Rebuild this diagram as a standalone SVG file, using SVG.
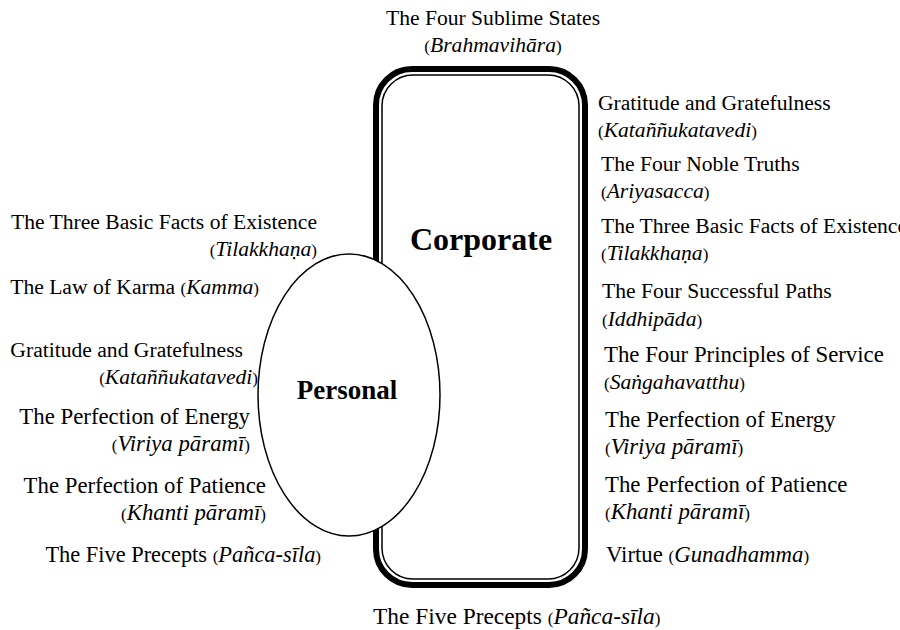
<svg xmlns="http://www.w3.org/2000/svg" width="900" height="630" viewBox="0 0 900 630">
<style>
text{font-family:"Liberation Serif","Times New Roman",serif;font-size:21.6px;fill:#000}
.l{font-size:22.8px}
.i{font-style:italic}
.p{font-size:17px;font-style:normal}
.r{text-anchor:end}
.c{text-anchor:middle}
.b{font-weight:bold}
</style>
<rect width="900" height="630" fill="#fff"/>
<g id="corporate">
<rect x="376" y="69" width="209" height="516" rx="36" fill="#fff" stroke="#000" stroke-width="6"/>
<rect x="382" y="75" width="197" height="504" rx="31" fill="none" stroke="#000" stroke-width="1.5"/>
<text x="481" y="250" class="c b" style="font-size:32px">Corporate</text>
</g>
<g id="personal">
<ellipse cx="349" cy="395" rx="91" ry="141" fill="#fff" stroke="#000" stroke-width="1.5"/>
<text x="347" y="399" class="c b" style="font-size:27px">Personal</text>
</g>
<g id="top-label">
<text x="493" y="25" class="c">The Four Sublime States</text>
<text x="493" y="52" class="c"><tspan class="p">(</tspan><tspan class="i">Brahmavihāra</tspan><tspan class="p">)</tspan></text>
</g>
<g id="bottom-label">
<text x="373" y="624" style="font-size:23.4px">The Five Precepts <tspan class="p">(</tspan><tspan class="i">Pañca-sīla</tspan><tspan class="p">)</tspan></text>
</g>
<g id="right-labels">
<text x="598" y="110">Gratitude and Gratefulness</text>
<text x="598" y="137"><tspan class="p">(</tspan><tspan class="i">Kataññukatavedi</tspan><tspan class="p">)</tspan></text>
<text x="601" y="171">The Four Noble Truths</text>
<text x="601" y="198"><tspan class="p">(</tspan><tspan class="i">Ariyasacca</tspan><tspan class="p">)</tspan></text>
<text x="601" y="233">The Three Basic Facts of Existence</text>
<text x="601" y="260"><tspan class="p">(</tspan><tspan class="i">Tilakkhaṇa</tspan><tspan class="p">)</tspan></text>
<text x="602" y="298">The Four Successful Paths</text>
<text x="602" y="326"><tspan class="p">(</tspan><tspan class="i">Iddhipāda</tspan><tspan class="p">)</tspan></text>
<text x="604" y="362" class="l">The Four Principles of Service</text>
<text x="604" y="389"><tspan class="p">(</tspan><tspan class="i">Saṅgahavatthu</tspan><tspan class="p">)</tspan></text>
<text x="605" y="427" class="l">The Perfection of Energy</text>
<text x="605" y="454" class="l"><tspan class="p">(</tspan><tspan class="i">Viriya pāramī</tspan><tspan class="p">)</tspan></text>
<text x="605" y="492" class="l">The Perfection of Patience</text>
<text x="605" y="519" class="l"><tspan class="p">(</tspan><tspan class="i">Khanti pāramī</tspan><tspan class="p">)</tspan></text>
<text x="606" y="562" class="l">Virtue <tspan class="p">(</tspan><tspan class="i">Gunadhamma</tspan><tspan class="p">)</tspan></text>
</g>
<g id="left-labels">
<text x="317" y="229" class="r">The Three Basic Facts of Existence</text>
<text x="317" y="256" class="r"><tspan class="p">(</tspan><tspan class="i">Tilakkhaṇa</tspan><tspan class="p">)</tspan></text>
<text x="259" y="294" class="r">The Law of Karma <tspan class="p">(</tspan><tspan class="i">Kamma</tspan><tspan class="p">)</tspan></text>
<text x="243" y="357" class="r">Gratitude and Gratefulness</text>
<text x="258" y="384" class="r"><tspan class="p">(</tspan><tspan class="i">Kataññukatavedi</tspan><tspan class="p">)</tspan></text>
<text x="250" y="424" class="r l">The Perfection of Energy</text>
<text x="250" y="451" class="r l"><tspan class="p">(</tspan><tspan class="i">Viriya pāramī</tspan><tspan class="p">)</tspan></text>
<text x="266" y="493" class="r l">The Perfection of Patience</text>
<text x="266" y="520" class="r l"><tspan class="p">(</tspan><tspan class="i">Khanti pāramī</tspan><tspan class="p">)</tspan></text>
<text x="321" y="562" class="r" style="font-size:22.4px">The Five Precepts <tspan class="p">(</tspan><tspan class="i">Pañca-sīla</tspan><tspan class="p">)</tspan></text>
</g>
</svg>
